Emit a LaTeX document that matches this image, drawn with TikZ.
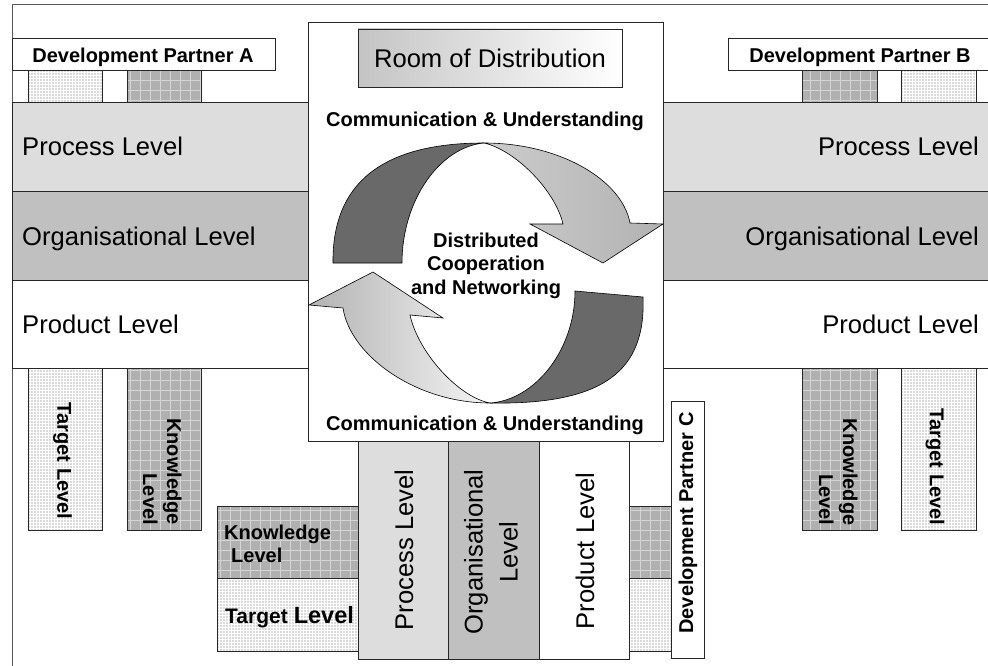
\documentclass[tikz,border=0pt]{standalone}
\usepackage{fontspec}
\setmainfont{Liberation Sans}
\definecolor{procgray}{HTML}{DDDDDD}
\definecolor{orggray}{HTML}{C0C0C0}
\definecolor{knowgray}{HTML}{B0B0B0}
\definecolor{knowline}{HTML}{D4D4D4}
\definecolor{targgray}{HTML}{DADADA}
\definecolor{roomgray}{HTML}{C4C4C4}
\definecolor{ribdark}{HTML}{696969}
\tikzset{
  frameline/.style={draw=black!65, line width=1pt},
  bx/.style={draw=black!85, line width=0.8pt},
  procfill/.style={bx, fill=procgray},
  orgfill/.style={bx, fill=orggray},
  prodfill/.style={bx, fill=white},
  knowfill/.style={bx, fill=knowgray,
    path picture={\draw[knowline, line width=0.6pt, step=10pt]
      (path picture bounding box.south west) grid (path picture bounding box.north east);}},
  targfill/.style={bx, fill=targgray,
    path picture={\draw[white, line width=0.6pt, step=3pt]
      (path picture bounding box.south west) grid (path picture bounding box.north east);}},
  lvl/.style={inner sep=0pt, font=\fontsize{25.6}{35}\selectfont},
  lbl/.style={inner sep=0pt, font=\bfseries\fontsize{20}{23.5}\selectfont},
  darkrib/.style={fill=ribdark, draw=black, line width=0.6pt},
  lightrib/.style={draw=black, line width=0.6pt},
}
\begin{document}
\begin{tikzpicture}[x=1pt,y=-1pt]
\clip (0,0) rectangle (988,666);
\fill[white] (0,0) rectangle (988,666);

% outer frame
\draw[frameline] (990,5) -- (12,5) -- (12,668);

% small level blocks above the process band
\path[targfill] (28,70) rectangle (102,102);
\path[knowfill] (127,70) rectangle (201,102);
\path[knowfill] (802,70) rectangle (877,102);
\path[targfill] (901,70) rectangle (976,102);

% partner A and B
\path[prodfill] (12,38) rectangle (275,70);
\node[lbl, anchor=base] (dpa) at (143,62.3) {Development Partner A};
\path[prodfill] (728,38) rectangle (994,70);
\node[lbl, anchor=base] (dpb) at (860,62.3) {Development Partner B};

% level bands, left side
\path[procfill] (12,102) rectangle (308,191);
\path[orgfill] (12,191) rectangle (308,280);
\path[prodfill] (12,280) rectangle (308,368);
\node[lvl, anchor=base west] (lproc) at (22,155.7) {Process Level};
\node[lvl, anchor=base west] (lorg) at (22,245) {Organisational Level};
\node[lvl, anchor=base west] (lprod) at (22,333) {Product Level};

% level bands, right side
\path[procfill] (663,102) rectangle (995,191);
\path[orgfill] (663,191) rectangle (995,280);
\path[prodfill] (663,280) rectangle (995,368);
\node[lvl, anchor=base east] (rproc) at (979,155.7) {Process Level};
\node[lvl, anchor=base east] (rorg) at (979,245) {Organisational Level};
\node[lvl, anchor=base east] (rprod) at (979,333) {Product Level};

% hanging pillars
\path[targfill] (28,368) rectangle (102,530);
\path[knowfill] (127,368) rectangle (201,530);
\path[knowfill] (802,368) rectangle (877,530);
\path[targfill] (901,368) rectangle (976,530);
\node[lbl, rotate=-90] (ltarg) at (62.5,461) {Target Level};
\node[lbl, rotate=-90, align=right, font=\bfseries\fontsize{20}{24}\selectfont] (lknow) at (162.3,471.5) {Knowledge\\Level};
\node[lbl, rotate=-90, align=right, font=\bfseries\fontsize{20}{24}\selectfont] (rknow) at (838.3,472) {Knowledge\\Level};
\node[lbl, rotate=-90] (rtarg) at (935,467) {Target Level};

% room of distribution
\path[prodfill] (308,22) rectangle (663,441);
\shadedraw[left color=roomgray, right color=white, draw=black!85, line width=0.8pt] (358,29) rectangle (622,87);
\node[lvl, anchor=base] (room) at (490,67.7) {Room of Distribution};
\node[lbl, anchor=base] (comtop) at (485,126.7) {Communication \& Understanding};
\node[lbl, anchor=base] (combot) at (485,430.7) {Communication \& Understanding};

% upper circular arrow
\path[darkrib] (333,263) .. controls (332,185) and (380,143) .. (484,143)
  .. controls (440,147) and (402,200) .. (402,263) -- cycle;
\shadedraw[lightrib, left color=gray!40, middle color=black!3, right color=gray!60]
  (484,143) .. controls (560,143) and (622,180) .. (630,223)
  -- (663,224) -- (603,263) -- (530,224) -- (563,224)
  .. controls (555,190) and (515,150) .. (484,143) -- cycle;

% lower circular arrow
\path[darkrib] (643,297) .. controls (646,370) and (605,405) .. (490,403)
  .. controls (535,400) and (575,350) .. (575,291) -- cycle;
\shadedraw[lightrib, left color=gray!60, middle color=gray!22, right color=black!4]
  (490,403) .. controls (415,403) and (350,355) .. (343,308)
  -- (309,305) -- (373,272) -- (443,318) -- (410,315)
  .. controls (418,352) and (458,397) .. (490,403) -- cycle;

\node[lbl, align=center, anchor=base] (dcn) at (486,294) {Distributed\\Cooperation\\and Networking};

% partner C blocks
\path[knowfill] (217,506) rectangle (358,578);
\path[targfill] (217,578) rectangle (358,651);
\path[knowfill] (629,506) rectangle (671,578);
\path[targfill] (629,578) rectangle (671,651);
\path[procfill] (358,441) rectangle (448,659);
\path[orgfill] (448,441) rectangle (539,659);
\path[prodfill] (539,441) rectangle (629,659);
\path[prodfill] (671,401) rectangle (704,658);
\node[lbl, anchor=base west] (cknowa) at (224,539) {Knowledge};
\node[lbl, anchor=base west] (cknowb) at (231,562) {Level};
\node[inner sep=0pt, anchor=base west, font=\bfseries] (ctarg) at (225,623)
  {\fontsize{21}{24}\selectfont Target\hspace{6pt}\fontsize{23.5}{27}\selectfont Level};
\node[lvl, rotate=90] (cproc) at (404,550) {Process Level};
\node[lvl, rotate=90, align=center] (corg) at (491,552) {Organisational\\Level};
\node[lvl, rotate=90] (cprod) at (585,551) {Product Level};
\node[lbl, rotate=90] (dpc) at (688,523) {Development Partner C};
\end{tikzpicture}
\end{document}
